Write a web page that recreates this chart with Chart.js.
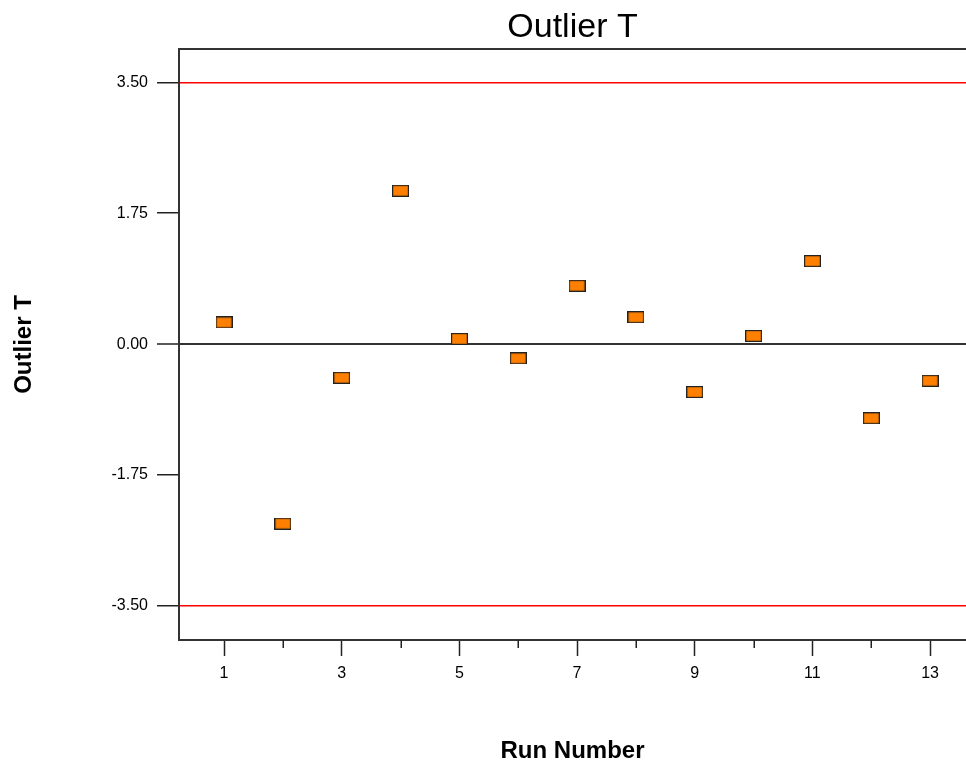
<!DOCTYPE html>
<html>
<head>
<meta charset="utf-8">
<title>Outlier T</title>
<script src="https://cdn.jsdelivr.net/npm/chart.js"></script>
<style>
    html, body { margin: 0; padding: 0; background: #ffffff; overflow: hidden; }
    canvas { display: block; }
</style>
</head>
<body>
<canvas id="outlierChart" width="966" height="767"></canvas>
<script>
// datos
const runs = [1, 2, 3, 4, 5, 6, 7, 8, 9, 10, 11, 12, 13];
const outlierT = [0.29, -2.40, -0.45, 2.05, 0.07, -0.19, 0.78, 0.36, -0.64, 0.11, 1.11, -0.99, -0.49];
const yTicks = [-3.5, -1.75, 0, 1.75, 3.5];
const limits = [3.5, -3.5];

const fontFamily = "'Liberation Sans', Arial, sans-serif";

// marcador rectangular naranja
function makeMarker() {
    const c = document.createElement('canvas');
    c.width = 17;
    c.height = 12;
    const g = c.getContext('2d');
    g.fillStyle = '#ff8000';
    g.fillRect(0, 0, 17, 12);
    g.strokeStyle = '#222';
    g.lineWidth = 1.2;
    g.strokeRect(0.6, 0.6, 15.8, 10.8);
    return c;
}

// borde superior y ticks menores del eje x
const framePlugin = {
    id: 'frame',
    afterDraw(chart) {
        const {ctx, chartArea, scales} = chart;
        ctx.save();
        ctx.strokeStyle = '#333';
        ctx.lineWidth = 2;
        ctx.beginPath();
        ctx.moveTo(chartArea.left, chartArea.top);
        ctx.lineTo(chartArea.right, chartArea.top);
        ctx.stroke();

        ctx.lineWidth = 1.5;
        ctx.strokeStyle = '#222';
        runs.filter(r => r % 2 === 0).forEach(r => {
            const x = Math.round(scales.x.getPixelForValue(r)) + 0.25;
            ctx.beginPath();
            ctx.moveTo(x, chartArea.bottom);
            ctx.lineTo(x, chartArea.bottom + 8);
            ctx.stroke();
        });
        ctx.restore();
    }
};

// sin margen lateral por la etiqueta "13": el area llega al borde
function noSidePadding(s) {
    s._calculatePadding = function () {
        this.paddingLeft = 0;
        this.paddingRight = 0;
    };
}

new Chart(document.getElementById('outlierChart'), {
    type: 'scatter',
    data: {
        datasets: [{
            label: 'Outlier T',
            data: runs.map((r, i) => ({x: r, y: outlierT[i]})),
            pointStyle: makeMarker(),
            showLine: false
        }]
    },
    options: {
        responsive: false,
        animation: false,
        layout: { padding: 0, autoPadding: false },
        plugins: {
            legend: { display: false },
            tooltip: { enabled: false },
            title: {
                display: true,
                text: 'Outlier T',
                fullSize: false,
                color: '#000',
                font: { family: fontFamily, size: 34, weight: 'normal' },
                padding: { top: 7, bottom: 1.2 }
            }
        },
        scales: {
            x: {
                type: 'linear',
                min: 0.235,
                max: 13.61,
                afterBuildTicks: s => { s.ticks = runs.map(v => ({value: v})); },
                beforeFit: noSidePadding,
                afterFit: s => { s.height = 127; },
                border: { display: true, color: '#333', width: 2 },
                grid: {
                    drawOnChartArea: false,
                    tickLength: 16,
                    tickWidth: 1.5,
                    tickColor: ctx => (ctx.tick && ctx.tick.value % 2 === 1) ? '#222' : 'rgba(0,0,0,0)'
                },
                ticks: {
                    color: '#000',
                    padding: 8,
                    maxRotation: 0,
                    autoSkip: false,
                    font: { family: fontFamily, size: 16 },
                    callback: v => (v % 2 === 1 ? String(v) : '')
                },
                title: {
                    display: true,
                    text: 'Run Number',
                    color: '#000',
                    font: { family: fontFamily, size: 24, weight: 'bold' },
                    padding: { top: 0, bottom: 1 }
                }
            },
            y: {
                min: -3.955,
                max: 3.945,
                afterBuildTicks: s => { s.ticks = yTicks.map(v => ({value: v})); },
                afterFit: s => { s.width = 179; },
                border: { display: true, color: '#333', width: 2 },
                grid: {
                    drawOnChartArea: true,
                    color: ctx => {
                        const v = ctx.tick ? ctx.tick.value : null;
                        if (limits.includes(v)) return '#ff0000';
                        if (v === 0) return '#333';
                        return 'rgba(0,0,0,0)';
                    },
                    lineWidth: ctx => (ctx.tick && ctx.tick.value === 0) ? 2 : 1.5,
                    tickLength: 22,
                    tickWidth: 1.5,
                    tickColor: '#222'
                },
                ticks: {
                    color: '#000',
                    padding: 9,
                    font: { family: fontFamily, size: 16 },
                    callback: v => Number(v).toFixed(2)
                },
                title: {
                    display: true,
                    text: 'Outlier T',
                    color: '#000',
                    font: { family: fontFamily, size: 24, weight: 'bold' },
                    padding: { top: 10, bottom: 0 }
                }
            }
        }
    },
    plugins: [framePlugin]
});
</script>
</body>
</html>
